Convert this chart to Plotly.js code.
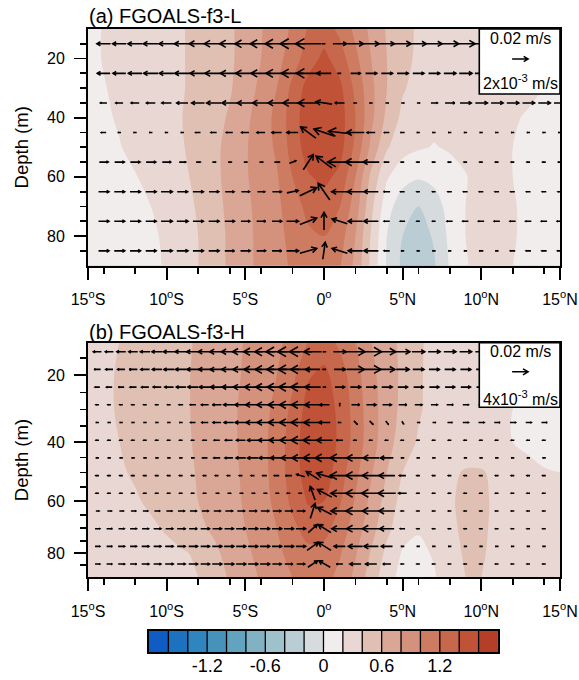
<!DOCTYPE html>
<html><head><meta charset="utf-8">
<script src="https://cdn.plot.ly/plotly-3.0.1.min.js"></script>
<style>html,body{margin:0;padding:0;background:#fff}</style>
</head><body><div id="chart" style="width:579px;height:680px"></div>
<script>
// ================= DATA =================
const latF = [-15,-14,-13,-12,-11,-10,-9,-8,-7,-6,-5,-4,-3,-2,-1,0,1,2,3,4,5,6,7,8,9,10,11,12,13,14,15];
const depthF = [10,20,30,40,50,60,70,80,90];
// (a) FGOALS-f3-L field, one row per depth of depthF
const fieldA10 = [0.15,0.21,0.25,0.29,0.32,0.35,0.39,0.45,0.50,0.57,0.67,0.79,0.90,1.03,1.22,1.30,1.15,0.95,0.75,0.58,0.45,0.38,0.35,0.33,0.32,0.32,0.31,0.30,0.28,0.26,0.24];
const fieldA20 = [0.15,0.21,0.25,0.29,0.32,0.35,0.39,0.45,0.50,0.57,0.67,0.80,0.93,1.10,1.30,1.45,1.30,1.05,0.80,0.60,0.45,0.37,0.33,0.31,0.30,0.30,0.29,0.28,0.26,0.24,0.22];
const fieldA30 = [0.14,0.19,0.24,0.28,0.31,0.34,0.39,0.45,0.51,0.58,0.70,0.85,1.00,1.25,1.48,1.55,1.45,1.15,0.85,0.60,0.42,0.33,0.29,0.27,0.27,0.27,0.26,0.24,0.22,0.20,0.18];
const fieldA40 = [0.12,0.17,0.22,0.27,0.31,0.35,0.40,0.46,0.54,0.62,0.75,0.90,1.05,1.30,1.52,1.58,1.50,1.20,0.85,0.55,0.35,0.27,0.25,0.25,0.26,0.26,0.24,0.21,0.19,0.17,0.15];
const fieldA50 = [0.10,0.14,0.19,0.25,0.30,0.34,0.39,0.46,0.56,0.65,0.78,0.90,1.03,1.28,1.50,1.55,1.48,1.15,0.75,0.42,0.27,0.22,0.19,0.22,0.25,0.27,0.25,0.20,0.16,0.13,0.11];
const fieldA60 = [0.08,0.11,0.15,0.19,0.25,0.30,0.36,0.45,0.56,0.65,0.78,0.88,0.98,1.20,1.38,1.45,1.35,1.00,0.55,0.22,0.08,0.02,0.06,0.12,0.19,0.27,0.28,0.20,0.14,0.11,0.10];
const fieldA70 = [0.07,0.09,0.12,0.15,0.20,0.26,0.33,0.42,0.54,0.64,0.76,0.86,0.96,1.10,1.26,1.30,1.20,0.90,0.45,0.08,-0.12,-0.20,-0.10,0.08,0.20,0.30,0.30,0.22,0.14,0.10,0.08];
const fieldA80 = [0.06,0.08,0.10,0.13,0.17,0.23,0.31,0.40,0.52,0.63,0.75,0.85,0.95,1.05,1.16,1.20,1.10,0.80,0.38,0.00,-0.20,-0.28,-0.18,0.05,0.20,0.30,0.30,0.22,0.14,0.10,0.08];
const fieldA90 = [0.05,0.07,0.09,0.12,0.16,0.22,0.30,0.40,0.52,0.63,0.75,0.85,0.95,1.02,1.10,1.12,1.02,0.75,0.35,-0.02,-0.24,-0.32,-0.22,0.02,0.18,0.28,0.28,0.20,0.13,0.10,0.08];
// (b) FGOALS-f3-H field
const fieldB10 = [0.35,0.37,0.40,0.44,0.48,0.52,0.56,0.62,0.68,0.74,0.81,0.88,0.96,1.06,1.20,1.28,1.15,1.00,0.80,0.68,0.55,0.42,0.36,0.33,0.31,0.30,0.28,0.26,0.24,0.22,0.21];
const fieldB20 = [0.36,0.38,0.41,0.45,0.49,0.53,0.57,0.63,0.69,0.75,0.82,0.90,1.00,1.15,1.38,1.45,1.30,1.08,0.85,0.70,0.56,0.42,0.35,0.31,0.29,0.27,0.25,0.23,0.21,0.19,0.18];
const fieldB30 = [0.36,0.38,0.41,0.45,0.49,0.53,0.57,0.63,0.69,0.76,0.84,0.93,1.05,1.25,1.48,1.52,1.35,1.12,0.88,0.70,0.55,0.42,0.34,0.30,0.27,0.25,0.22,0.20,0.18,0.16,0.15];
const fieldB40 = [0.35,0.37,0.40,0.44,0.48,0.52,0.57,0.62,0.68,0.76,0.84,0.94,1.08,1.30,1.52,1.54,1.36,1.12,0.88,0.68,0.50,0.38,0.30,0.28,0.27,0.26,0.23,0.20,0.17,0.15,0.14];
const fieldB50 = [0.33,0.35,0.38,0.42,0.47,0.51,0.56,0.61,0.68,0.75,0.83,0.93,1.08,1.30,1.50,1.50,1.30,1.05,0.82,0.60,0.40,0.30,0.30,0.36,0.42,0.42,0.35,0.28,0.24,0.21,0.20];
const fieldB60 = [0.30,0.32,0.34,0.38,0.43,0.49,0.55,0.60,0.67,0.74,0.82,0.92,1.05,1.25,1.42,1.40,1.22,0.98,0.75,0.52,0.33,0.26,0.30,0.38,0.44,0.44,0.36,0.30,0.26,0.24,0.22];
const fieldB70 = [0.27,0.28,0.30,0.33,0.37,0.42,0.50,0.56,0.63,0.72,0.80,0.90,1.00,1.15,1.28,1.26,1.12,0.90,0.68,0.45,0.28,0.22,0.28,0.37,0.43,0.43,0.36,0.30,0.26,0.24,0.22];
const fieldB80 = [0.25,0.26,0.27,0.29,0.32,0.35,0.38,0.43,0.56,0.66,0.76,0.86,0.96,1.06,1.15,1.14,1.02,0.82,0.58,0.35,0.18,0.15,0.22,0.34,0.42,0.42,0.35,0.30,0.27,0.25,0.24];
const fieldB90 = [0.24,0.25,0.26,0.28,0.30,0.33,0.36,0.40,0.50,0.62,0.72,0.82,0.92,1.00,1.08,1.06,0.95,0.75,0.50,0.28,0.13,0.12,0.18,0.32,0.40,0.40,0.34,0.30,0.27,0.25,0.24];

// (a) vectors: u (m/s), w (m/s)
const latVA = [-14,-13,-12,-11,-10,-9,-8,-7,-6,-5,-4,-3,-2,-1,0,1,2,3,4,5,6,7,8,9,10,11,12,13,14,15];
const depthVA = [15,25,35,45,55,65,75,85];
const uA15 = [-0.017,-0.017,-0.018,-0.019,-0.019,-0.020,-0.022,-0.024,-0.025,-0.026,-0.027,-0.029,-0.031,-0.032,-0.003,0.017,0.020,0.020,0.019,0.021,0.020,0.020,0.022,0.024,0.024,0.024,0.024,0.024,0.024,0.024];
const wA15 = [0,0,0,0,0,0,0,0,0,0,0,0,0,0,0,0,0,0,0,0,0,0,0,0,0,0,0,0,0,0];
const uA25 = [-0.016,-0.016,-0.017,-0.018,-0.018,-0.019,-0.020,-0.022,-0.023,-0.024,-0.025,-0.027,-0.028,-0.030,-0.018,-0.002,0.012,0.014,0.014,0.014,0.014,0.014,0.015,0.016,0.016,0.016,0.016,0.016,0.016,0.016];
const wA25 = [0,0,0,0,0,0,0,0,0,0,0,0,0,0,0,0,0,0,0,0,0,0,0,0,0,0,0,0,0,0];
const uA35 = [-0.008,-0.009,-0.010,-0.011,-0.012,-0.014,-0.016,-0.018,-0.019,-0.020,-0.021,-0.022,-0.024,-0.026,-0.020,-0.012,-0.004,-0.002,0.000,0.002,0.003,0.008,0.012,0.014,0.015,0.015,0.015,0.015,0.015,0.015];
const wA35 = [0,0,0,0,0,0,0,0,0,0,0,0,0,0,0.0003,0,0,0,0,0,0,0,0,0,0,0,0,0,0,0];
const uA45 = [-0.006,-0.002,-0.001,-0.001,-0.001,-0.003,-0.006,-0.007,-0.008,-0.009,-0.010,-0.012,-0.014,-0.019,-0.025,-0.028,-0.022,-0.010,-0.006,-0.005,-0.003,-0.001,-0.001,-0.001,-0.001,-0.001,-0.001,-0.001,-0.001,-0.001];
const wA45 = [0,0,0,0,0,0,0,0,0,0,0,0,0,0.0014,0.0009,0.0003,0,0,0,0,0,0,0,0,0,0,0,0,0,0];
const uA55 = [0.011,0.012,0.012,0.012,0.011,0.008,0.005,0.003,0.003,0.002,0.004,0.006,0.008,0.0125,-0.020,-0.030,-0.025,-0.020,-0.006,-0.002,-0.002,-0.001,-0.004,-0.002,-0.002,-0.002,-0.002,-0.002,-0.002,-0.002];
const wA55 = [0,0,0,0,0,0,0,0,0,0,0,0,0.0003,0.0019,0.0015,0,0,0,0,0,0,0,0,0,0,0,0,0,0,0];
const uA65 = [0.013,0.013,0.013,0.013,0.014,0.013,0.013,0.012,0.011,0.010,0.009,0.011,0.014,0.021,-0.0146,-0.020,-0.020,-0.018,-0.008,-0.005,-0.002,-0.002,-0.005,-0.005,-0.005,-0.005,-0.005,-0.005,-0.005,-0.005];
const wA65 = [0,0,0,0,0,0,0,0,0,0,0,0,0.0003,0.0010,0.0021,0,0,0,0,0,0,0,0,0,0,0,0,0,0,0];
const uA75 = [0.013,0.013,0.013,0.013,0.014,0.014,0.013,0.013,0.012,0.011,0.011,0.012,0.015,0.021,0.000,-0.019,-0.018,-0.018,-0.007,-0.006,-0.002,-0.002,-0.007,-0.007,-0.007,-0.007,-0.007,-0.007,-0.007,-0.007];
const wA75 = [0,0,0,0,0,0,0,0,0,0,0,0,0,0.0008,0.0022,0.0006,0,0,0,0,0,0,0,0,0,0,0,0,0,0];
const uA85 = [0.013,0.013,0.013,0.013,0.014,0.014,0.013,0.013,0.012,0.012,0.011,0.012,0.015,0.021,0.003,-0.019,-0.018,-0.018,-0.007,-0.003,-0.002,-0.002,-0.002,-0.003,-0.005,-0.003,-0.006,-0.006,-0.006,-0.006];
const wA85 = [0,0,0,0,0,0,0,0,0,0,0,0,0,0.0006,0.0021,0.0006,0,0,0,0,0,0,0,0,0,0,0,0,0,0];

// (b) vectors
const latVB = [-14.4,-13.64,-12.88,-12.12,-11.36,-10.6,-9.84,-9.08,-8.32,-7.56,-6.8,-6.04,-5.28,-4.52,-3.76,-3.0,-2.24,-1.48,-0.72,0.04,1,2,3,4,5,6,7,8,9,10,11,12,13,14];
const depthVB = [13.3,18.3,23.4,28.6,33.9,39.4,45.1,51.0,57.1,63.5,70.2,77.2,84.5];
const uB0  = [-0.010,-0.010,-0.011,-0.011,-0.012,-0.013,-0.014,-0.015,-0.016,-0.017,-0.018,-0.019,-0.021,-0.023,-0.025,-0.027,-0.028,-0.028,-0.022,-0.004,0.016,0.024,0.026,0.022,0.018,0.016,0.015,0.015,0.015,0.015,0.015,0.015,0.015,0.015];
const wB0  = [0,0,0,0,0,0,0,0,0,0,0,0,0,0,0,0,0,0,0,0,0,0,0,0,0,0,0,0,0,0,0,0,0,0];
const uB1  = [-0.008,-0.009,-0.009,-0.010,-0.011,-0.012,-0.013,-0.014,-0.015,-0.016,-0.017,-0.018,-0.020,-0.022,-0.024,-0.025,-0.026,-0.025,-0.018,-0.002,0.014,0.022,0.024,0.020,0.016,0.014,0.013,0.013,0.013,0.013,0.013,0.013,0.013,0.013];
const wB1  = [0,0,0,0,0,0,0,0,0,0,0,0,0,0,0,0,0,0,0,0,0,0,0,0,0,0,0,0,0,0,0,0,0,0];
const uB2  = [-0.006,-0.007,-0.007,-0.008,-0.009,-0.010,-0.011,-0.012,-0.013,-0.014,-0.016,-0.017,-0.019,-0.021,-0.023,-0.024,-0.025,-0.025,-0.020,-0.004,0.012,0.013,0.013,0.013,0.012,0.012,0.012,0.012,0.012,0.012,0.012,0.012,0.012,0.012];
const wB2  = [0,0,0,0,0,0,0,0,0,0,0,0,0,0,0,0,0,0,0,0,0,0,0,0,0,0,0,0,0,0,0,0,0,0];
const uB3  = [-0.002,-0.002,-0.002,-0.002,-0.002,-0.002,-0.003,-0.005,-0.007,-0.009,-0.011,-0.013,-0.015,-0.018,-0.020,-0.022,-0.023,-0.023,-0.020,-0.012,0.000,0.010,0.012,0.011,0.010,0.009,0.008,0.008,0.007,0.007,0.007,0.007,0.007,0.007];
const wB3  = [0,0,0,0,0,0,0,0,0,0,0,0,0,0,0,0,0,0,0,0,0.0008,0,0,0,0,0,0,0,0,0,0,0,0,0];
const uB4  = [-0.001,-0.001,-0.001,-0.001,-0.001,-0.001,-0.002,-0.004,-0.006,-0.008,-0.010,-0.012,-0.014,-0.017,-0.019,-0.021,-0.023,-0.024,-0.022,-0.014,-0.004,0.004,0.004,0.003,0.002,0.001,0.004,0.006,0.007,0.007,0.007,0.007,0.007,0.007];
const wB4  = [0,0,0,0,0,0,0,0,0,0,0,0,0,0,0,0,0,0,0,0,0,-0.0008,-0.0008,-0.0008,-0.0006,0,0,0,0,0,0,0,0,0];
const uB5  = [-0.001,-0.001,-0.001,-0.001,-0.001,-0.001,-0.001,-0.002,-0.003,-0.005,-0.007,-0.009,-0.011,-0.013,-0.016,-0.019,-0.022,-0.024,-0.024,-0.020,-0.008,-0.003,-0.002,-0.001,-0.001,-0.001,-0.001,-0.001,-0.001,-0.001,-0.001,-0.001,-0.001,-0.001];
const wB5  = [0,0,0,0,0,0,0,0,0,0,0,0,0,0,0,0,0,0,0,0,0,0,0,0,0,0,0,0,0,0,0,0,0,0];
const uB6  = [-0.001,-0.001,-0.001,-0.001,-0.001,-0.001,-0.001,-0.002,-0.004,-0.006,-0.008,-0.010,-0.012,-0.013,-0.014,-0.016,-0.019,-0.022,-0.024,-0.024,-0.024,-0.022,-0.020,-0.016,-0.004,-0.001,-0.001,-0.001,-0.001,-0.001,-0.001,-0.001,-0.001,-0.001];
const wB6  = [0,0,0,0,0,0,0,0,0,0,0,0,0,0,0,0,0,0,0,0,0,0,0,0,0,0,0,0,0,0,0,0,0,0];
const uB7  = [-0.001,-0.001,-0.001,-0.001,-0.001,-0.001,-0.001,-0.001,-0.001,-0.001,-0.001,-0.002,-0.003,-0.004,-0.005,-0.006,-0.008,-0.010,-0.016,-0.020,-0.024,-0.024,-0.022,-0.020,-0.008,-0.001,-0.001,-0.001,-0.001,-0.001,-0.001,-0.001,-0.001,-0.001];
const wB7  = [0,0,0,0,0,0,0,0,0,0,0,0,0,0,0,0,0,0.0006,0.0020,0.0012,0,0,0,0,0,0,0,0,0,0,0,0,0,0];
const uB8  = [-0.001,-0.001,-0.001,-0.001,-0.001,-0.001,-0.001,-0.001,-0.001,-0.001,0.001,0.001,0.002,0.002,0.002,0.001,-0.002,-0.003,-0.006,-0.018,-0.022,-0.024,-0.024,-0.022,-0.010,-0.001,-0.001,-0.001,-0.001,-0.001,-0.001,-0.001,-0.001,-0.001];
const wB8  = [0,0,0,0,0,0,0,0,0,0,0,0,0,0,0,0,0,0,0.0034,0.0019,0,0,0,0,0,0,0,0,0,0,0,0,0,0];
const uB9  = [0.004,0.005,0.005,0.006,0.006,0.007,0.007,0.008,0.008,0.008,0.008,0.009,0.009,0.010,0.010,0.010,0.010,0.010,0.006,-0.0175,-0.022,-0.024,-0.022,-0.020,-0.004,-0.001,-0.001,-0.001,-0.001,-0.001,-0.001,-0.001,-0.001,-0.001];
const wB9  = [0,0,0,0,0,0,0,0,0,0,0,0,0,0,0,0,0,0,0.00375,0.0018,0,0,0,0,0,0,0,0,0,0,0,0,0,0];
const uB10 = [0.006,0.007,0.007,0.008,0.008,0.009,0.009,0.010,0.010,0.011,0.011,0.011,0.012,0.012,0.012,0.012,0.012,0.012,0.011,-0.016,-0.020,-0.022,-0.022,-0.018,-0.006,-0.001,-0.001,-0.001,-0.001,-0.001,-0.001,-0.001,-0.001,-0.001];
const wB10 = [0,0,0,0,0,0,0,0,0,0,0,0,0,0,0,0,0,0,0.0020,0.0020,0,0,0,0,0,0,0,0,0,0,0,0,0,0];
const uB11 = [0.006,0.007,0.008,0.008,0.009,0.009,0.010,0.010,0.011,0.011,0.012,0.012,0.012,0.012,0.012,0.012,0.012,0.012,0.014,-0.016,-0.014,-0.018,-0.018,-0.014,-0.004,-0.001,-0.001,-0.001,-0.001,-0.001,-0.001,-0.001,-0.001,-0.001];
const wB11 = [0,0,0,0,0,0,0,0,0,0,0,0,0,0,0,0,0,0,0.0020,0.0020,0,0,0,0,0,0,0,0,0,0,0,0,0,0];
const uB12 = [0.006,0.007,0.008,0.008,0.009,0.009,0.010,0.010,0.011,0.011,0.012,0.012,0.012,0.012,0.012,0.011,0.010,0.010,0.012,-0.014,-0.008,-0.014,-0.014,-0.010,-0.004,-0.001,-0.001,-0.001,-0.001,-0.001,-0.001,-0.001,-0.001,-0.001];
const wB12 = [0,0,0,0,0,0,0,0,0,0,0,0,0,0,0,0,0,0,0.0016,0.0016,0,0,0,0,0,0,0,0,0,0,0,0,0,0];

// reference vectors (legend boxes)
const refU = 0.02;            // m/s, both panels
const refWA = 0.002;          // 2x10^-3 m/s
const refWB = 0.004;          // 4x10^-3 m/s

// contour levels and colours
const levelStart = -1.6, levelEnd = 1.6, levelStep = 0.2;
const bandColors = ['#0e5cc4','#1c72be','#2f85bd','#4692ba','#62a4bf','#80b2c4','#9dc2cc','#bacdd4','#d6dbde',
                    '#f0edec','#e8d7d2','#e1c0b4','#daa796','#d4927c','#cd7b61','#c7674b','#c05238','#b43e28'];
const cbEdges = [-1.8,-1.6,-1.4,-1.2,-1.0,-0.8,-0.6,-0.4,-0.2,0,0.2,0.4,0.6,0.8,1.0,1.2,1.4,1.6,1.8];
const cbTickVals = [-1.2,-0.6,0,0.6,1.2];
const cbTickText = ['-1.2','-0.6','0','0.6','1.2'];
const latTicks = [-15,-10,-5,0,5,10,15];
const latTickText = ['15<sup>o</sup>S','10<sup>o</sup>S','5<sup>o</sup>S','0<sup>o</sup>','5<sup>o</sup>N','10<sup>o</sup>N','15<sup>o</sup>N'];
const latMinor = [-14,-12,-8,-6,-4,-2,2,4,6,8,12,14];
const depthTicks = [20,40,60,80];
const depthTickText = ['20','40','60','80'];
const depthMinor = [15,25,30,35,45,50,55,65,70,75,85];

// ================= LAYOUT CONSTANTS =================
const W = 579, H = 680;
const M = {l: 88, r: 19, t: 29, b: 20};
const PW = W - M.l - M.r, PH = H - M.t - M.b;
const domA = [0.6250, 1.0];
const domB = [0.1309, 0.50285];
const domCB = [0.0122, 0.0464];
const domCBx = [0.1292, 0.8686];
const depthTopA = 10, depthBotA = 90;
const depthTopB = 10.75, depthBotB = 90;
const FONT = 'Liberation Sans, Arial, Helvetica, sans-serif';
const REFLEN = 16; // px length of reference vector

function depthToIdx(d) {
  const D = depthVB, n = D.length;
  if (d <= D[0]) return (d - D[0]) / (D[1] - D[0]);
  if (d >= D[n-1]) return (n - 1) + (d - D[n-1]) / (D[n-1] - D[n-2]);
  for (let i = 0; i < n - 1; i++) if (d <= D[i+1]) return i + (d - D[i]) / (D[i+1] - D[i]);
}
const yRangeB = [depthToIdx(depthBotB), depthToIdx(depthTopB)];

const pxPerLat = PW / 30;
const PA = {sx: pxPerLat, sy: (domA[1]-domA[0]) * PH / (depthBotA - depthTopA), uRef: refU, wRef: refWA, hMax: 9};
const PB = {sx: pxPerLat, sy: (domB[1]-domB[0]) * PH / (yRangeB[0] - yRangeB[1]), uRef: refU, wRef: refWB, hMax: 8.5};

function arrowSegs(cx, cy, u, w, P, Lmax) {
  let dx = u / P.uRef * REFLEN;
  let dy = -w / P.wRef * REFLEN;          // screen pixels (down positive)
  let L = Math.hypot(dx, dy);
  const L0 = L, Lmin = 3;
  if (L < Lmin) { if (L === 0) { dx = Lmin; dy = 0; } else { dx *= Lmin / L; dy *= Lmin / L; } L = Lmin; }
  const ex = dx / L, ey = dy / L;
  const h = Math.max(0.6, P.hMax * Math.pow(Math.max(L0, 0.01) / Lmax, 1.5));
  const hw = h * 0.58;
  const pts = [
    [[-dx/2, -dy/2], [dx/2, dy/2]],
    [[dx/2 - h*ex - hw*ey, dy/2 - h*ey + hw*ex], [dx/2, dy/2], [dx/2 - h*ex + hw*ey, dy/2 - h*ey - hw*ex]]
  ];
  // pixel offsets -> axis coordinates (both y axes increase downward)
  return pts.map(seg => seg.map(([px, py]) => [cx + px / P.sx, cy + py / P.sy]));
}

function buildField(lats, ys, uRows, wRows, P) {
  let Lmax = 0;
  ys.forEach((y, r) => lats.forEach((x, i) => {
    Lmax = Math.max(Lmax, Math.hypot(uRows[r][i] / P.uRef * REFLEN, wRows[r][i] / P.wRef * REFLEN));
  }));
  const X = [], Y = [];
  ys.forEach((y, r) => lats.forEach((x, i) => {
    arrowSegs(x, y, uRows[r][i], wRows[r][i], P, Lmax).forEach(seg => {
      seg.forEach(p => { X.push(p[0]); Y.push(p[1]); });
      X.push(null); Y.push(null);
    });
  }));
  return {X, Y, Lmax};
}

const vecA = buildField(latVA, depthVA,
  [uA15,uA25,uA35,uA45,uA55,uA65,uA75,uA85], [wA15,wA25,wA35,wA45,wA55,wA65,wA75,wA85], PA);
const idxVB = depthVB.map(depthToIdx);
const vecB = buildField(latVB, idxVB,
  [uB0,uB1,uB2,uB3,uB4,uB5,uB6,uB7,uB8,uB9,uB10,uB11,uB12],
  [wB0,wB1,wB2,wB3,wB4,wB5,wB6,wB7,wB8,wB9,wB10,wB11,wB12], PB);

// one discrete step per 0.2 band from -1.8 to 1.8 (used for contours and colour bar)
const nBands = bandColors.length;
const bandScale = [];
bandColors.forEach((c, k) => { bandScale.push([k / nBands, c]); bandScale.push([(k + 1) / nBands, c]); });
const cbMids = cbEdges.slice(0, -1).map((e, k) => (e + cbEdges[k+1]) / 2);

const contourCommon = {
  type: 'contour', autocontour: false,
  contours: {start: levelStart, end: levelEnd, size: levelStep, coloring: 'fill', showlines: false},
  colorscale: bandScale, showscale: false, line: {width: 0, smoothing: 0.9}, hoverinfo: 'skip'
};

const traces = [
  Object.assign({}, contourCommon, {x: latF, y: depthF,
    z: [fieldA10,fieldA20,fieldA30,fieldA40,fieldA50,fieldA60,fieldA70,fieldA80,fieldA90], xaxis: 'x', yaxis: 'y'}),
  Object.assign({}, contourCommon, {x: latF, y: depthF.map(depthToIdx),
    z: [fieldB10,fieldB20,fieldB30,fieldB40,fieldB50,fieldB60,fieldB70,fieldB80,fieldB90], xaxis: 'x2', yaxis: 'y2'}),
  {type: 'scatter', mode: 'lines', x: vecA.X, y: vecA.Y, xaxis: 'x', yaxis: 'y',
   line: {color: '#000', width: 1.6}, hoverinfo: 'skip', showlegend: false},
  {type: 'scatter', mode: 'lines', x: vecB.X, y: vecB.Y, xaxis: 'x2', yaxis: 'y2',
   line: {color: '#000', width: 1.6}, hoverinfo: 'skip', showlegend: false},
  {type: 'heatmap', x: cbEdges, y: [0, 1], z: [cbMids], zmin: cbEdges[0], zmax: cbEdges[cbEdges.length-1],
   colorscale: bandScale, showscale: false, xaxis: 'x3', yaxis: 'y3', hoverinfo: 'skip'},
  {type: 'scatter', mode: 'lines', xaxis: 'x3', yaxis: 'y3', hoverinfo: 'skip', showlegend: false,
   x: cbEdges.slice(1, -1).flatMap(e => [e, e, null]), y: cbEdges.slice(1, -1).flatMap(() => [0, 1, null]),
   line: {color: '#000', width: 1.3}}
];

const tickFont = {family: FONT, size: 16, color: '#000'};
function xAxis(anchor) {
  return {domain: [0, 1], anchor, range: [-15, 15], tickmode: 'array', tickvals: latTicks, ticktext: latTickText,
    ticks: 'outside', ticklen: 12, tickwidth: 1.8, tickcolor: '#000', ticklabelstandoff: 6,
    minor: {tickmode: 'array', tickvals: latMinor, ticks: 'outside', ticklen: 6, tickwidth: 1.8, tickcolor: '#000'},
    showline: true, linewidth: 2, linecolor: '#000', mirror: true, showgrid: false, zeroline: false, tickfont: tickFont};
}
function yAxis(anchor, domain, range, conv) {
  return {domain, anchor, range, tickmode: 'array', tickvals: depthTicks.map(conv), ticktext: depthTickText,
    ticks: 'outside', ticklen: 12, tickwidth: 1.8, tickcolor: '#000', ticklabelstandoff: 6,
    minor: {tickmode: 'array', tickvals: depthMinor.map(conv), ticks: 'outside', ticklen: 6, tickwidth: 1.8, tickcolor: '#000'},
    showline: true, linewidth: 2, linecolor: '#000', mirror: true, showgrid: false, zeroline: false, tickfont: tickFont,
    title: {text: 'Depth (m)', font: {family: FONT, size: 18.5, color: '#000'}, standoff: 14}};
}

// reference arrows in legend boxes (placed via axis coordinates)
function refArrowPath(P, yRange, xFrac, yFrac, Lmax) {
  const cx = -15 + 30 * xFrac;
  const cy = yRange[0] + (yRange[1] - yRange[0]) * yFrac;
  const segs = arrowSegs(cx, cy, refU, 0, P, Lmax);
  return segs.map(seg => seg.map((p, i) => (i ? 'L' : 'M') + p[0] + ',' + p[1]).join(' ')).join(' ');
}
const boxX0 = 0.829, boxY0 = 0.725;
const shapes = [
  {type: 'rect', xref: 'x domain', yref: 'y domain', x0: boxX0, x1: 1, y0: boxY0, y1: 1,
   fillcolor: '#fff', line: {color: '#000', width: 1.6}, layer: 'above'},
  {type: 'path', xref: 'x', yref: 'y', layer: 'above', line: {color: '#000', width: 1.5},
   path: refArrowPath(PA, [depthBotA, depthTopA], 0.9155, 0.873, vecA.Lmax)},
  {type: 'rect', xref: 'x2 domain', yref: 'y2 domain', x0: boxX0, x1: 1, y0: boxY0, y1: 1,
   fillcolor: '#fff', line: {color: '#000', width: 1.6}, layer: 'above'},
  {type: 'path', xref: 'x2', yref: 'y2', layer: 'above', line: {color: '#000', width: 1.5},
   path: refArrowPath(PB, yRangeB, 0.9155, 0.876, vecB.Lmax)}
];

const boxFont = {family: FONT, size: 16, color: '#000'};
const centered = {showarrow: false, xanchor: 'center', yanchor: 'middle', font: boxFont};
const titleFont = {family: FONT, size: 20, color: '#000'};
const annotations = [
  {text: '(a) FGOALS-f3-L', xref: 'paper', yref: 'paper', x: -0.003, y: 1.0206, xanchor: 'left', yanchor: 'middle',
   showarrow: false, font: titleFont},
  {text: '(b) FGOALS-f3-H', xref: 'paper', yref: 'paper', x: -0.003, y: 0.5206, xanchor: 'left', yanchor: 'middle',
   showarrow: false, font: titleFont},
  Object.assign({text: '0.02 m/s', xref: 'x domain', yref: 'y domain', x: 0.9155, y: 0.958}, centered),
  Object.assign({text: '2x10<sup>-3</sup> m/s', xref: 'x domain', yref: 'y domain', x: 0.9155, y: 0.774}, centered),
  Object.assign({text: '0.02 m/s', xref: 'x2 domain', yref: 'y2 domain', x: 0.9155, y: 0.962}, centered),
  Object.assign({text: '4x10<sup>-3</sup> m/s', xref: 'x2 domain', yref: 'y2 domain', x: 0.9155, y: 0.766}, centered)
];

const layout = {
  width: W, height: H, margin: M, paper_bgcolor: '#fff', plot_bgcolor: '#fff', showlegend: false,
  font: {family: FONT, color: '#000'},
  xaxis: xAxis('y'),
  yaxis: yAxis('x', domA, [depthBotA, depthTopA], d => d),
  xaxis2: xAxis('y2'),
  yaxis2: yAxis('x2', domB, yRangeB, depthToIdx),
  xaxis3: {domain: domCBx, anchor: 'y3', range: [cbEdges[0], cbEdges[cbEdges.length-1]], tickmode: 'array',
    tickvals: cbTickVals, ticktext: cbTickText, ticks: '', showline: true, mirror: true, linewidth: 1.6, linecolor: '#000',
    showgrid: false, zeroline: false, tickfont: {family: FONT, size: 18, color: '#000'}, ticklabelstandoff: -4},
  yaxis3: {domain: domCB, anchor: 'x3', range: [0, 1], showticklabels: false, ticks: '', showline: true, mirror: true,
    linewidth: 1.6, linecolor: '#000', showgrid: false, zeroline: false},
  shapes, annotations
};

Plotly.newPlot('chart', traces, layout, {staticPlot: true, displayModeBar: false});
</script></body></html>
